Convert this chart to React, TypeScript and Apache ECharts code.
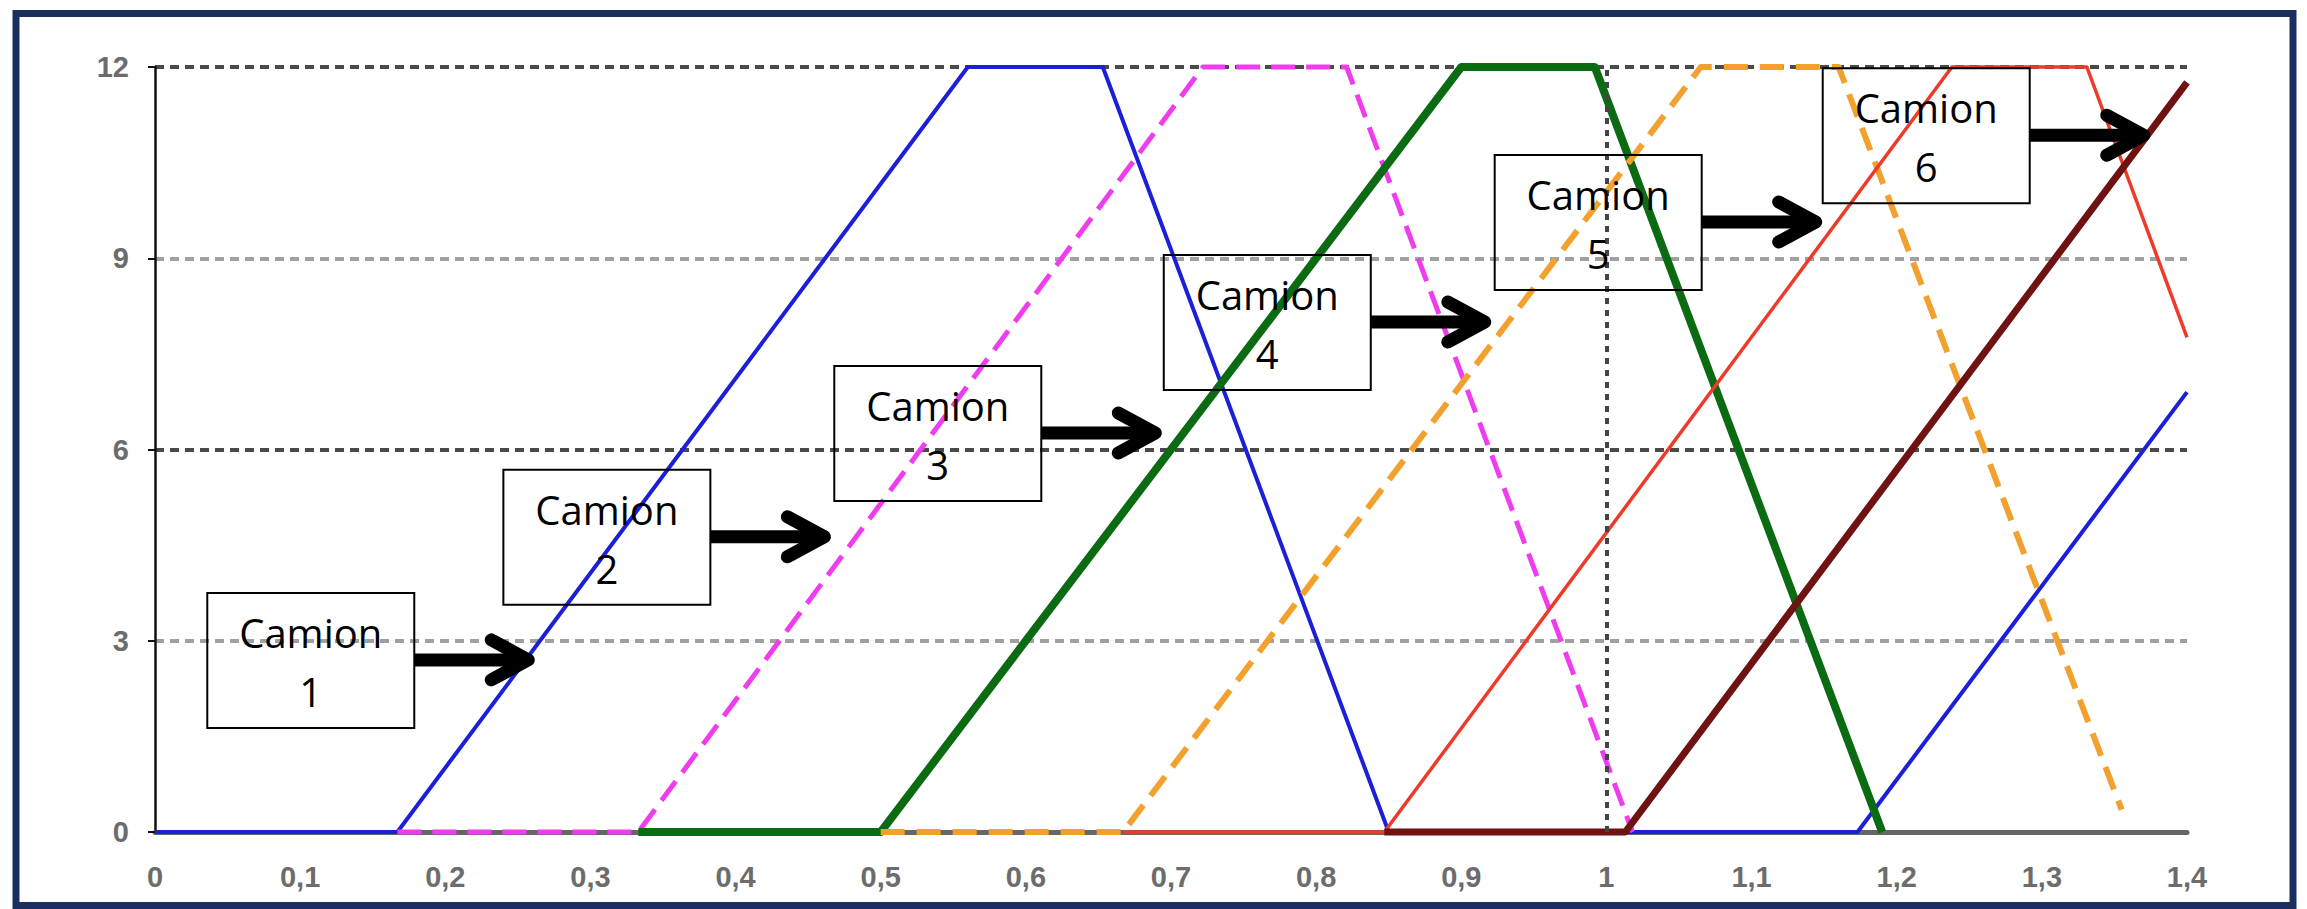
import React, { useEffect, useRef } from "react";
import * as echarts from "echarts";

// Tick values and labels
const X_TICK_LABELS = ["0", "0,1", "0,2", "0,3", "0,4", "0,5", "0,6", "0,7", "0,8", "0,9", "1", "1,1", "1,2", "1,3", "1,4"];
const Y_TICK_LABELS = ["0", "3", "6", "9", "12"];
const X_MIN = 0;
const X_MAX = 1.4;
const X_STEP = 0.1;
const Y_MIN = 0;
const Y_MAX = 12;
const Y_STEP = 3;

// Series values: [x, y]
const CAMION_1: number[][] = [[0, 0], [0.167, 0], [0.56, 12], [0.653, 12], [0.85, 0], [1.173, 0], [1.4, 6.9]];
const CAMION_2: number[][] = [[0.167, 0], [0.333, 0], [0.722, 12], [0.821, 12], [1.018, 0]];
const CAMION_3: number[][] = [[0.333, 0], [0.5, 0], [0.9, 12], [0.992, 12], [1.19, 0]];
const CAMION_4: number[][] = [[0.5, 0], [0.667, 0], [1.065, 12], [1.16, 12], [1.355, 0.35]];
const CAMION_5: number[][] = [[0.667, 0], [0.847, 0], [1.238, 12], [1.331, 12], [1.4, 7.76]];
const CAMION_6: number[][] = [[0.847, 0], [1.013, 0], [1.4, 11.76]];

// Annotation labels and the data points the arrows point to
const ANNOT_LABELS = ["Camion\n1", "Camion\n2", "Camion\n3", "Camion\n4", "Camion\n5", "Camion\n6"];
const ARROW_TIPS: number[][] = [[0.262, 2.7], [0.466, 4.63], [0.694, 6.26], [0.921, 8.0], [1.149, 9.57], [1.375, 10.93]];
const VERTICAL_MARK_X = 1;

const fmtX = (v: number) => {
  const i = Math.round((v - X_MIN) / X_STEP);
  return X_TICK_LABELS[i] ?? "";
};
const fmtY = (v: number) => {
  const i = Math.round((v - Y_MIN) / Y_STEP);
  return Y_TICK_LABELS[i] ?? "";
};

export default function App() {
  const ref = useRef<HTMLDivElement>(null);

  useEffect(() => {
    if (!ref.current) return;
    const chart = echarts.init(ref.current, undefined, { renderer: "svg" });
    const labelStyle = {
      fontSize: 29,
      fontFamily: "Liberation Sans, Arial, sans-serif",
      fontWeight: "bold" as const,
      color: "#6c6c6c",
    };
    const mk = (name: string, data: number[][], color: string, width: number, type: any, extra: any = {}) => ({
      name,
      type: "line",
      data,
      symbol: "none",
      showSymbol: false,
      clip: false,
      lineStyle: { color, width, type, cap: "butt", join: "round" },
      emphasis: { disabled: true },
      ...extra,
    });

    chart.setOption({
      animation: false,
      backgroundColor: "#ffffff",
      grid: { left: 155, right: 120, top: 67, bottom: 77, outerBoundsMode: "none", containLabel: false },
      xAxis: {
        type: "value",
        min: X_MIN,
        max: X_MAX,
        interval: X_STEP,
        axisLine: { show: true, onZero: false, lineStyle: { color: "#666666", width: 5 } },
        axisTick: { show: false },
        splitLine: { show: false },
        axisLabel: { ...labelStyle, margin: 30, formatter: fmtX },
      },
      yAxis: {
        type: "value",
        min: Y_MIN,
        max: Y_MAX,
        interval: Y_STEP,
        axisLine: { show: true, lineStyle: { color: "#111111", width: 2.5 } },
        axisTick: { show: true, length: 7, lineStyle: { color: "#111111", width: 2 } },
        splitLine: { show: true, lineStyle: { color: ["#4a4a4a", "#a0a0a0"], width: 4, type: [9, 6] } },
        axisLabel: { ...labelStyle, margin: 26, formatter: fmtY },
      },
      series: [
        mk("Camion 1", CAMION_1, "#1c1fd8", 4, "solid", {
          markLine: {
            silent: true,
            symbol: ["none", "none"],
            label: { show: false },
            lineStyle: { color: "#444444", width: 4, type: [6, 6] },
            data: [{ xAxis: VERTICAL_MARK_X }],
          },
        }),
        mk("Camion 2", CAMION_2, "#ee3cee", 5, [24, 11]),
        mk("Camion 3", CAMION_3, "#0b6b12", 8, "solid"),
        mk("Camion 4", CAMION_4, "#f2a12e", 6, [24, 12]),
        mk("Camion 5", CAMION_5, "#ee3a2a", 3.5, "solid"),
        mk("Camion 6", CAMION_6, "#6e1212", 7, "solid"),
      ],
    });

    const graphics: any[] = [];
    ARROW_TIPS.forEach((p, i) => {
      const [tx, ty] = chart.convertToPixel({ gridIndex: 0 }, p) as number[];
      const boxW = 207;
      const boxH = 135;
      const right = tx - 121;
      const left = right - boxW;
      const top = ty - 67;
      graphics.push({
        type: "rect",
        z: 100,
        shape: { x: left, y: top, width: boxW, height: boxH },
        style: { fill: "none", stroke: "#000000", lineWidth: 2 },
      });
      graphics.push({
        type: "text",
        z: 101,
        x: left + boxW / 2,
        y: top + 69,
        style: {
          text: ANNOT_LABELS[i],
          fontSize: 40,
          fontFamily: "Open Sans, sans-serif",
          fill: "#000000",
          align: "center",
          verticalAlign: "middle",
          lineHeight: 59,
        },
      });
      graphics.push({
        type: "line",
        z: 101,
        shape: { x1: right, y1: ty, x2: tx - 8, y2: ty },
        style: { stroke: "#000000", lineWidth: 13 },
      });
      graphics.push({
        type: "polyline",
        z: 101,
        shape: { points: [[tx - 44, ty - 20], [tx - 7, ty], [tx - 44, ty + 20]] },
        style: { stroke: "#000000", fill: null, lineWidth: 13, lineCap: "round", lineJoin: "round" },
      });
    });
    graphics.push({
      type: "rect",
      z: 200,
      shape: { x: 16, y: 13.5, width: 2277, height: 892 },
      style: { fill: "none", stroke: "#1b2f5e", lineWidth: 7 },
    });
    chart.setOption({ graphic: graphics });

    return () => chart.dispose();
  }, []);

  return (
    <div
      ref={ref}
      style={{ position: "fixed", left: 0, top: 0, width: "2307px", height: "909px" }}
    />
  );
}
